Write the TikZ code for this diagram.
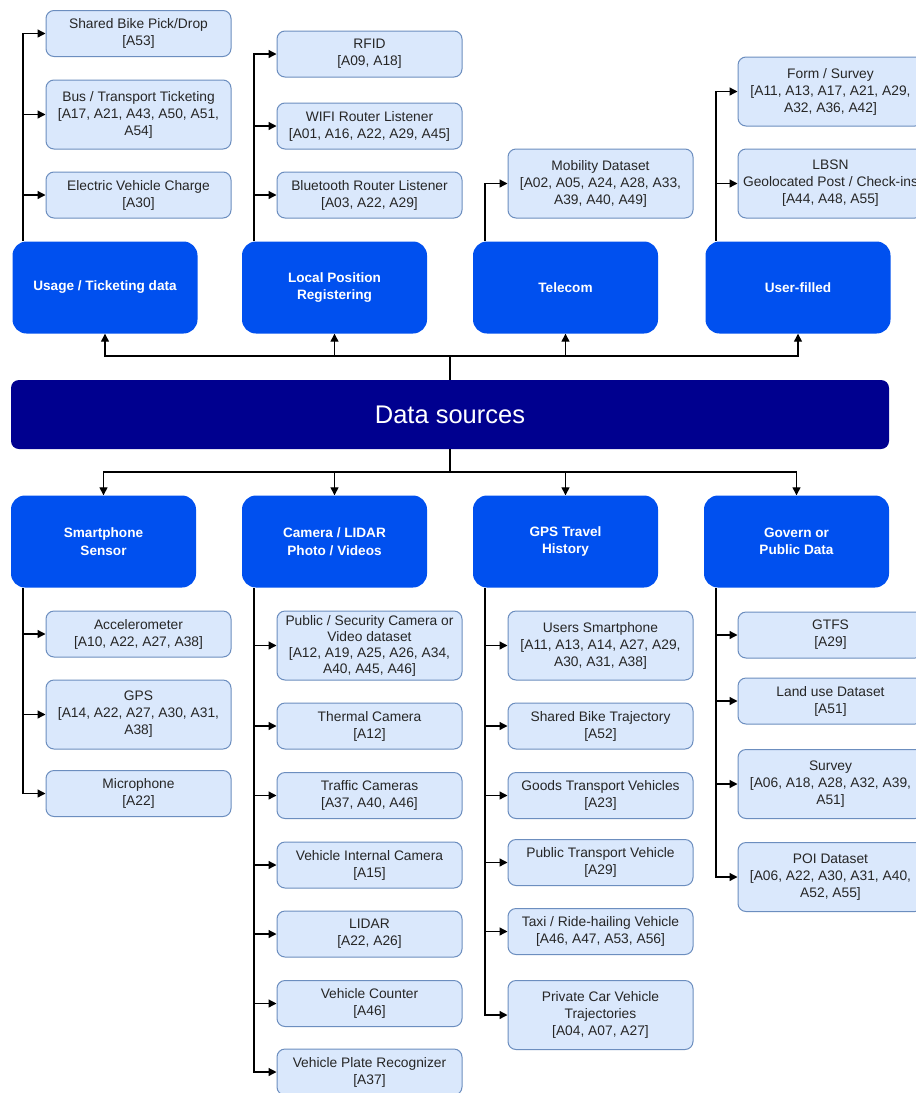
\documentclass[tikz,border=0pt]{standalone}
\usepackage{fontspec}
\setmainfont{Liberation Sans}
\usetikzlibrary{arrows.meta}
\definecolor{itemfill}{HTML}{DAE8FC}
\definecolor{itemline}{HTML}{6C8EBF}
\definecolor{catblue}{HTML}{0050EF}
\definecolor{navy}{HTML}{00008F}
\definecolor{txt}{HTML}{262626}
\tikzset{
  item/.style={draw=itemline, line width=1pt, fill=itemfill, rounded corners=8pt,
    minimum width=185pt, inner sep=0pt, align=center, text=txt,
    font=\fontsize{13.8}{17}\selectfont},
  cat/.style={fill=catblue, rounded corners=14pt, minimum width=185pt, minimum height=92pt,
    inner sep=0pt, align=center, text=white, font=\bfseries\fontsize{13.6}{17.5}\selectfont},
  arr/.style={draw=black, line width=1.3pt, -{Triangle[length=8pt,width=8pt]}},
  ln/.style={draw=black, line width=1.3pt},
}
\begin{document}
\begin{tikzpicture}[x=1pt,y=-1pt]
\useasboundingbox (0,0) rectangle (916,1093);
\clip (0,0) rectangle (916,1093);
\fill[white] (0,0) rectangle (916,1093);

% central bar
\node[fill=navy, rounded corners=8pt, minimum width=878pt, minimum height=69pt, inner sep=0pt,
  text=white, font=\fontsize{25.5}{30}\selectfont] (ds) at (450,414.5) {Data sources};

% category boxes
\node[cat] (usage) at (105,287.5) {Usage / Ticketing data};
\node[cat] (local) at (334.5,287.5) {Local Position\\Registering};
\node[cat] (tel) at (565.5,287.5) {Telecom};
\node[cat] (user) at (798,287.5) {User-filled};
\node[cat] (smart) at (103.5,541.5) {Smartphone\\Sensor};
\node[cat] (cam) at (334.5,541.5) {Camera / LIDAR\\Photo / Videos};
\node[cat] (gps) at (565.5,541.5) {GPS Travel\\History};
\node[cat] (gov) at (796.5,541.5) {Govern or\\Public Data};

% hubs
\coordinate (hubT) at (450,356);
\coordinate (hubB) at (450,472);
\draw[ln] (ds.north) -- (hubT);
\draw[ln] (ds.south) -- (hubB);
\foreach \n in {usage,local,tel,user} \draw[arr] (hubT) -| (\n.south);
\foreach \n in {smart,cam,gps,gov} \draw[arr] (hubB) -| (\n.north);

% ---- top items
\node[item, minimum height=46pt] (sbp) at (138.5,33.5) {Shared Bike Pick/Drop\\{[A53]}};
\node[item, minimum height=69pt] (bus) at (138.5,114.5) {Bus / Transport Ticketing\\{[A17, A21, A43, A50, A51,}\\A54]};
\node[item, minimum height=46pt] (evc) at (138.5,195) {Electric Vehicle Charge\\{[A30]}};

\node[item, minimum height=46pt] (rfid) at (369.5,54) {RFID\\{[A09, A18]}};
\node[item, minimum height=46pt] (wifi) at (369.5,126) {WIFI Router Listener\\{[A01, A16, A22, A29, A45]}};
\node[item, minimum height=46pt] (bt) at (369.5,195) {Bluetooth Router Listener\\{[A03, A22, A29]}};

\node[item, minimum height=69pt] (mob) at (600.5,183.5) {Mobility Dataset\\{[A02, A05, A24, A28, A33,}\\A39, A40, A49]};

\node[item, minimum height=69pt] (form) at (830.5,91.5) {Form / Survey\\{[A11, A13, A17, A21, A29,}\\A32, A36, A42]};
\node[item, minimum height=69pt] (lbsn) at (830.5,183.5) {LBSN\\Geolocated Post / Check-ins\\{[A44, A48, A55]}};

\coordinate (tU) at (23,241);
\coordinate (tL) at (254,241);
\coordinate (tT) at (485,241);
\coordinate (tF) at (716,241);
\foreach \n in {sbp,bus,evc} \draw[arr] (tU) |- (\n.west);
\foreach \n in {rfid,wifi,bt} \draw[arr] (tL) |- (\n.west);
\draw[arr] (tT) |- (mob.west);
\foreach \n in {form,lbsn} \draw[arr] (tF) |- (\n.west);

% ---- bottom items
\node[item, minimum height=46pt] (acc) at (138.5,634) {Accelerometer\\{[A10, A22, A27, A38]}};
\node[item, minimum height=69pt] (gpss) at (138.5,714.5) {GPS\\{[A14, A22, A27, A30, A31,}\\A38]};
\node[item, minimum height=46pt] (mic) at (138.5,793.5) {Microphone\\{[A22]}};

\node[item, minimum height=69pt, font=\fontsize{13.8}{16}\selectfont] (psc) at (369.5,645.5) {Public / Security Camera or\\Video dataset\\{[A12, A19, A25, A26, A34,}\\A40, A45, A46]};
\node[item, minimum height=46pt] (thc) at (369.5,726) {Thermal Camera\\{[A12]}};
\node[item, minimum height=46pt] (trc) at (369.5,795.5) {Traffic Cameras\\{[A37, A40, A46]}};
\node[item, minimum height=46pt] (vic) at (369.5,865) {Vehicle Internal Camera\\{[A15]}};
\node[item, minimum height=46pt] (lid) at (369.5,934) {LIDAR\\{[A22, A26]}};
\node[item, minimum height=46pt] (vco) at (369.5,1003.5) {Vehicle Counter\\{[A46]}};
\node[item, minimum height=46pt] (vpr) at (369.5,1072) {Vehicle Plate Recognizer\\{[A37]}};

\node[item, minimum height=69pt] (usp) at (600.5,645.5) {Users Smartphone\\{[A11, A13, A14, A27, A29,}\\A30, A31, A38]};
\node[item, minimum height=46pt] (sbt) at (600.5,726) {Shared Bike Trajectory\\{[A52]}};
\node[item, minimum height=46pt] (gtv) at (600.5,795.5) {Goods Transport Vehicles\\{[A23]}};
\node[item, minimum height=46pt] (ptv) at (600.5,862.5) {Public Transport Vehicle\\{[A29]}};
\node[item, minimum height=46pt] (taxi) at (600.5,931.5) {Taxi / Ride-hailing Vehicle\\{[A46, A47, A53, A56]}};
\node[item, minimum height=69pt] (pcv) at (600.5,1015) {Private Car Vehicle\\Trajectories\\{[A04, A07, A27]}};

\node[item, minimum height=46pt] (gtfs) at (830.5,635) {GTFS\\{[A29]}};
\node[item, minimum height=46pt] (land) at (830.5,701) {Land use Dataset\\{[A51]}};
\node[item, minimum height=69pt] (surv) at (830.5,784) {Survey\\{[A06, A18, A28, A32, A39,}\\A51]};
\node[item, minimum height=69pt] (poi) at (830.5,877) {POI Dataset\\{[A06, A22, A30, A31, A40,}\\A52, A55]};

\coordinate (bS) at (23,588);
\coordinate (bC) at (254,588);
\coordinate (bG) at (485,588);
\coordinate (bP) at (716,588);
\foreach \n in {acc,gpss,mic} \draw[arr] (bS) |- (\n.west);
\foreach \n in {psc,thc,trc,vic,lid,vco,vpr} \draw[arr] (bC) |- (\n.west);
\foreach \n in {usp,sbt,gtv,ptv,taxi,pcv} \draw[arr] (bG) |- (\n.west);
\foreach \n in {gtfs,land,surv,poi} \draw[arr] (bP) |- (\n.west);
\end{tikzpicture}
\end{document}
